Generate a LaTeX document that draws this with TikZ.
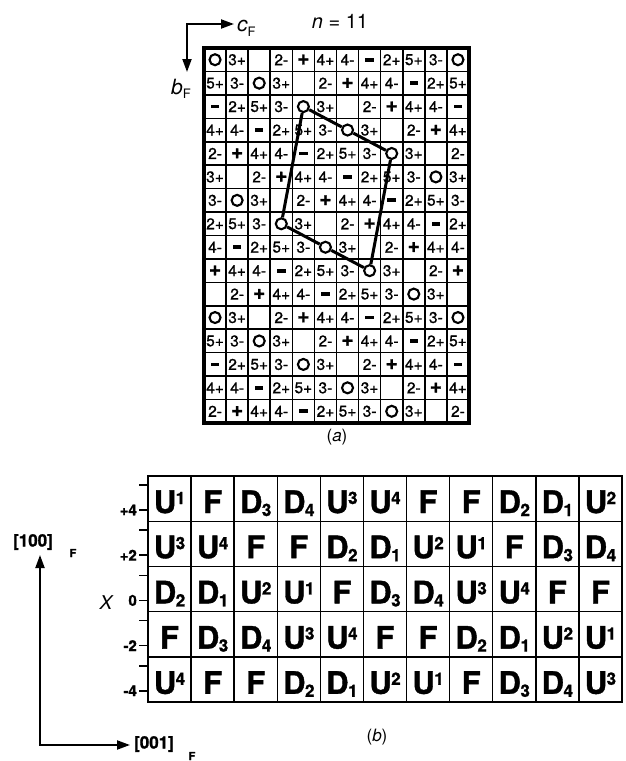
\documentclass[tikz,border=0pt]{standalone}
\usepackage{fontspec}
\setmainfont{TeX Gyre Heros}
\newfontfamily\gridfont{texgyreheros-regular.otf}[FakeBold=1.0]
\newfontfamily\heavyfont{texgyreheros-bold.otf}[FakeBold=1.2]
\usetikzlibrary{arrows.meta}
\newcommand\tcell[3]{%
  \ifcase#1
    \node[circ] (#2) at #3 {};
  \or \node[lab] (#2) at #3 {3+};
  \or \coordinate (#2) at #3;
  \or \node[lab] (#2) at #3 {2-};
  \or \node[plus] (#2) at #3 {+};
  \or \node[lab] (#2) at #3 {4+};
  \or \node[lab] (#2) at #3 {4-};
  \or \node[minus] (#2) at #3 {};
  \or \node[lab] (#2) at #3 {2+};
  \or \node[lab] (#2) at #3 {5+};
  \or \node[lab] (#2) at #3 {3-};
  \fi}
\newcommand\Usup[1]{U\kern-0.5pt\raisebox{9pt}{\fontsize{17}{17}\selectfont #1}}
\newcommand\Dsub[1]{D\kern-0.5pt\raisebox{-3pt}{\fontsize{17}{17}\selectfont #1}}
\def\bparse#1#2\relax{\if U#1\Usup{#2}\else\if D#1\Dsub{#2}\else F\fi\fi}
\begin{document}
\begin{tikzpicture}[x=1pt,y=-1pt,
  lab/.style={font=\gridfont\fontsize{15.5}{15.5}\selectfont, inner sep=0pt},
  circ/.style={circle, draw, line width=2.1pt, minimum size=11pt, inner sep=0pt},
  plus/.style={font=\heavyfont\fontsize{21}{21}\selectfont, inner sep=0pt},
  minus/.style={fill, minimum width=8.5pt, minimum height=3.8pt, inner sep=0pt},
  big/.style={font=\heavyfont\fontsize{31}{31}\selectfont, inner sep=0pt, anchor=base},
  gridl/.style={line width=1.6pt},
  poly/.style={line width=3pt},
  darr/.style={line width=2pt, {Triangle[length=13pt,width=9pt]}-{Triangle[length=13pt,width=9pt]}},
  ticklab/.style={font=\heavyfont\fontsize{15}{15}\selectfont, inner sep=0pt, anchor=east},
  txt/.style={inner sep=0pt}]
\useasboundingbox (0,0) rectangle (625,761);
\fill[white] (0,0) rectangle (625,761);

% ---------- (a) top grid ----------
\foreach \i in {1,...,11} \draw[gridl] ({204+22.083*\i},48) -- ({204+22.083*\i},423);
\foreach \j in {1,...,15} \draw[gridl] (204,{48+23.4375*\j}) -- (469,{48+23.4375*\j});
\draw[line width=3.5pt] (204,48) rectangle (469,423);

\foreach \r in {0,...,15}{
  \foreach \c in {0,...,11}{
    \pgfmathtruncatemacro\k{mod(\c-2*\r+44,11)}
    \pgfmathsetmacro\xx{204+22.083*(\c+0.5)}
    \pgfmathsetmacro\yy{48+23.4375*(\r+0.5)}
    \tcell{\k}{t\r-\c}{(\xx,\yy)}
  }
}

\draw[poly] (t2-4) -- (t3-6) -- (t4-8) -- (t9-7) -- (t8-5) -- (t7-3) -- (t2-4);

\coordinate (tc) at (187,24);
\coordinate (tcx) at (234,24);
\coordinate (tby) at (187,72);
\draw[darr] (tby) -- (tc) -- (tcx);
\node[txt, anchor=west] (cF) at (237,28) {\fontsize{21}{21}\selectfont\itshape c\raisebox{-5pt}{\fontsize{13}{13}\selectfont\upshape F}};
\node[txt, anchor=west] (bF) at (171,89) {\fontsize{21}{21}\selectfont\itshape b\raisebox{-4pt}{\fontsize{13}{13}\selectfont\upshape F}};
\node[txt] (nn) at (340,21) {\fontsize{20}{20}\selectfont\itshape n\upshape\ =\ 11};
\node[txt] (capa) at (337,437) {\fontsize{17}{17}\selectfont(\textit{a})};

% ---------- (b) bottom grid ----------
\foreach \i in {1,...,10} \draw[line width=1.4pt] ({148+43.09*\i},476) -- ({148+43.09*\i},702);
\foreach \j in {1,...,4} \draw[line width=1.4pt] (148,{476+45.2*\j}) -- (622,{476+45.2*\j});
\draw[line width=2.2pt] (148,476) rectangle (622,702);

\foreach \row [count=\r from 0] in {
  {U1,F0,D3,D4,U3,U4,F0,F0,D2,D1,U2},
  {U3,U4,F0,F0,D2,D1,U2,U1,F0,D3,D4},
  {D2,D1,U2,U1,F0,D3,D4,U3,U4,F0,F0},
  {F0,D3,D4,U3,U4,F0,F0,D2,D1,U2,U1},
  {U4,F0,F0,D2,D1,U2,U1,F0,D3,D4,U3}}{
  \foreach \cell [count=\c from 0] in \row {
    \pgfmathsetmacro\xx{148+43.09*(\c+0.5)}
    \pgfmathsetmacro\yy{476+45.2*\r+37}
    \node[big] (b\r-\c) at (\xx,\yy) {\expandafter\bparse\cell\relax};
  }
}

% ticks and axis labels
\foreach \lab [count=\r from 0] in {+4,+2,0,-2,-4}{
  \pgfmathsetmacro\ya{476+45.2*\r+9}
  \pgfmathsetmacro\yb{476+45.2*\r+34}
  \draw[line width=1.6pt] (139,\ya) -- (148,\ya);
  \draw[line width=1.6pt] (139,\yb) -- (148,\yb);
  \node[ticklab] (tl\r) at (137,\yb) {\lab};
}
\node[txt] (Xl) at (106,603) {\fontsize{19}{19}\selectfont\itshape X};

\coordinate (ao) at (40,745);
\coordinate (ay) at (40,555);
\coordinate (ax) at (130,745);
\draw[darr] (ay) -- (ao) -- (ax);
\node[txt] (l100) at (33,542) {\heavyfont\fontsize{17}{17}\selectfont [100]};
\node[txt] (l100F) at (73,553) {\heavyfont\fontsize{11}{11}\selectfont F};
\node[txt] (l001) at (154,744) {\heavyfont\fontsize{17}{17}\selectfont [001]};
\node[txt] (l001F) at (192,756) {\heavyfont\fontsize{11}{11}\selectfont F};
\node[txt] (capb) at (377,737) {\fontsize{17}{17}\selectfont(\textit{b})};
\end{tikzpicture}
\end{document}
